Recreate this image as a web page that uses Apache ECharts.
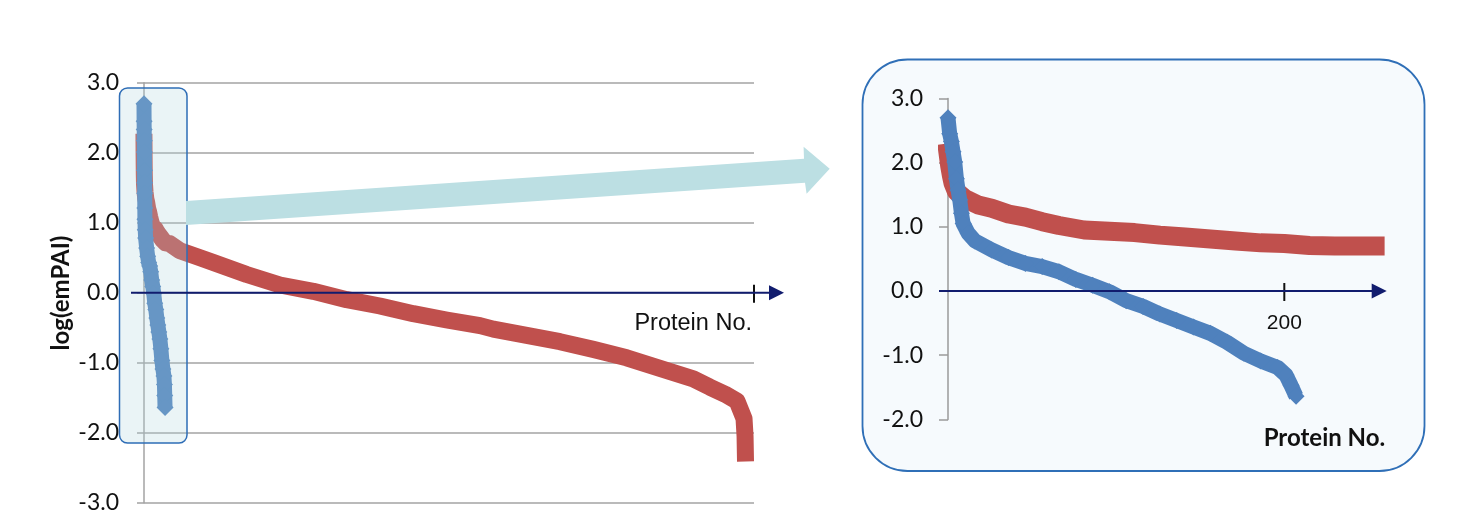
<!DOCTYPE html>
<html><head><meta charset="utf-8">
<script src="https://cdn.jsdelivr.net/npm/echarts@6/dist/echarts.min.js"></script>
<style>html,body{margin:0;padding:0;background:#fff;}#c{width:1460px;height:526px;}</style>
</head><body><div id="c"></div>
<script>
// ---- data ----
const blueIdx = [0,1,2,3,4,5,6,7,8,9,12,16,26,36,46,56,66,76,86,96,106,116,126,136,146,156,166,176,186,196,201,204,207];
const blueVal = [2.70,2.45,2.33,2.17,2.01,1.75,1.57,1.42,1.21,1.05,0.90,0.78,0.64,0.52,0.43,0.38,0.30,0.18,0.09,-0.01,-0.15,-0.24,-0.36,-0.46,-0.56,-0.66,-0.80,-0.97,-1.09,-1.19,-1.31,-1.47,-1.64];
const redIdx = [0,1,2,3,5,10,18,26,36,46,56,66,81,96,111,126,141,156,171,186,200,215,230,254,354,551,682,1010,1338,1665,1994,2321,2649,2977,3305,3436,3764,4092,4419,4748,5075,5403,5567,5715,5833,5902,5912,5915];
const redVal = [2.15,1.95,1.80,1.68,1.55,1.44,1.34,1.29,1.20,1.15,1.08,1.02,0.95,0.93,0.91,0.87,0.84,0.81,0.78,0.75,0.74,0.71,0.70,0.70,0.60,0.50,0.43,0.26,0.11,0.02,-0.10,-0.19,-0.30,-0.39,-0.47,-0.52,-0.61,-0.70,-0.81,-0.93,-1.08,-1.23,-1.35,-1.45,-1.55,-1.80,-2.05,-2.29];
const mainYTicks = {min: -3, max: 3, step: 1};
const insetYTicks = {min: -2, max: 3, step: 1};
const mainXMax = 6000;
const insetXMax = 260;
const insetLastRed = 254;
const insetXTickLabel = 200;
const yName = 'log(emPAI)';
const xName = 'Protein No.';

const pairs = (xs, ys) => xs.map((x, k) => [x, ys[k]]);
const redAll = pairs(redIdx, redVal);
const blueAll = pairs(blueIdx, blueVal);
const redInset = redAll.filter(p => p[0] <= insetLastRed);

const RED = '#c0504d', BLUE = '#4f81bd', NAVY = '#111c6e', GRAY = '#a3a3a3';
const labelFont = {fontFamily: 'Lato', fontSize: 23, color: '#111'};

const chart = echarts.init(document.getElementById('c'), null, {renderer: 'canvas'});
const option = {
  animation: false,
  backgroundColor: '#ffffff',
  grid: [
    {left: 144, top: 82.7, width: 610, height: 420},
    {left: 948, top: 98.4, width: 437.2, height: 321}
  ],
  xAxis: [
    {type: 'value', gridIndex: 0, min: 0, max: mainXMax, axisLine: {show: false}, axisTick: {show: false}, axisLabel: {show: false}, splitLine: {show: false}},
    {type: 'value', gridIndex: 1, min: 0, max: insetXMax, interval: insetXTickLabel,
      axisLine: {show: false}, axisTick: {show: false}, axisLabel: {show: false}, splitLine: {show: false}}
  ],
  yAxis: [
    {type: 'value', gridIndex: 0, min: mainYTicks.min, max: mainYTicks.max, interval: mainYTicks.step,
      axisLine: {show: true, onZero: false, lineStyle: {color: GRAY, width: 1.5}},
      axisTick: {show: true, length: 7, lineStyle: {color: GRAY, width: 1.5}},
      axisLabel: Object.assign({margin: 25, formatter: v => v.toFixed(1)}, labelFont),
      splitLine: {show: true, lineStyle: {color: GRAY, width: 1.5}}},
    {type: 'value', gridIndex: 1, min: insetYTicks.min, max: insetYTicks.max, interval: insetYTicks.step,
      axisLine: {show: true, onZero: false, lineStyle: {color: '#9a9a9a', width: 1.5}},
      axisTick: {show: true, length: 9, lineStyle: {color: '#9a9a9a', width: 1.5}},
      axisLabel: Object.assign({margin: 25, formatter: v => v.toFixed(1)}, labelFont),
      splitLine: {show: false}}
  ],
  series: [
    {type: 'line', xAxisIndex: 0, yAxisIndex: 0, data: redAll, showSymbol: false, clip: false, z: 2,
      lineStyle: {color: RED, width: 17, cap: 'square', join: 'round'}, itemStyle: {color: RED}},
    {type: 'line', xAxisIndex: 0, yAxisIndex: 0, data: blueAll, symbol: 'diamond', symbolSize: 17, showSymbol: true, clip: false, z: 3,
      lineStyle: {color: BLUE, width: 15, join: 'round'}, itemStyle: {color: BLUE}},
    {type: 'line', xAxisIndex: 1, yAxisIndex: 1, data: redInset, showSymbol: false, clip: false, z: 2,
      lineStyle: {color: RED, width: 19, cap: 'square', join: 'round'}, itemStyle: {color: RED}},
    {type: 'line', xAxisIndex: 1, yAxisIndex: 1, data: blueAll, symbol: 'diamond', symbolSize: 17, showSymbol: true, clip: false, z: 3,
      lineStyle: {color: BLUE, width: 15, join: 'round'}, itemStyle: {color: BLUE}}
  ]
};
chart.setOption(option);

// decorations positioned from the library's scales
const p0 = (x, y) => chart.convertToPixel({gridIndex: 0}, [x, y]);
const p1 = (x, y) => chart.convertToPixel({gridIndex: 1}, [x, y]);
const m0 = p0(0, 0), mEnd = p0(mainXMax, 0);
const i0 = p1(0, 0), iTick = p1(insetXTickLabel, 0), iEnd = p1(insetXMax, 0);

function axisArrow(x1, x2, y, tipX) {
  return [
    {type: 'line', z: 60, shape: {x1: x1, y1: y, x2: tipX - 12, y2: y}, style: {stroke: NAVY, lineWidth: 2}},
    {type: 'polygon', z: 60, shape: {points: [[tipX, y], [tipX - 15, y - 7.5], [tipX - 15, y + 7.5]]}, style: {fill: NAVY}}
  ];
}

const graphics = [
  {type: 'rect', z: -1, shape: {x: 862.5, y: 59.5, width: 562, height: 411.5, r: 45},
    style: {fill: '#f6fafd', stroke: '#2f6fb7', lineWidth: 1.8}},
  {type: 'rect', z: 50, shape: {x: 119.5, y: 88, width: 67.5, height: 355, r: 8},
    style: {fill: 'rgba(174,213,220,0.26)', stroke: '#2e6db6', lineWidth: 1.5}},
  {type: 'polygon', z: 51, shape: {points: [[186, 201], [804, 158.7], [803.6, 146.7], [829.7, 168.7], [806.6, 193.7], [805, 182.7], [186, 225]]},
    style: {fill: '#bcdfe3'}},
  {type: 'line', z: 60, shape: {x1: mEnd[0], y1: mEnd[1] - 8, x2: mEnd[0], y2: mEnd[1] + 10}, style: {stroke: '#111', lineWidth: 2}},
  {type: 'line', z: 60, shape: {x1: iTick[0], y1: iTick[1] - 8, x2: iTick[0], y2: iTick[1] + 10}, style: {stroke: '#111', lineWidth: 2}},
  {type: 'text', z: 60, x: iTick[0], y: iTick[1] + 32, style: {text: String(insetXTickLabel), font: '21px "Liberation Sans"', fill: '#111', align: 'center', verticalAlign: 'middle'}},
  {type: 'text', z: 60, x: mEnd[0] - 2, y: m0[1] + 31, style: {text: xName, font: '23.5px "Liberation Sans"', fill: '#111', align: 'right', verticalAlign: 'middle'}},
  {type: 'text', z: 60, x: iEnd[0], y: 438, style: {text: xName, font: 'bold 24px Lato', fill: '#111', align: 'right', verticalAlign: 'middle'}},
  {type: 'text', z: 60, x: 61, y: 293, rotation: Math.PI / 2, style: {text: yName, font: 'bold 24px Lato', fill: '#111', align: 'center', verticalAlign: 'middle'}}
]
.concat(axisArrow(131, mEnd[0] + 29, m0[1], mEnd[0] + 30))
.concat(axisArrow(i0[0] - 9, iEnd[0], i0[1], iEnd[0] + 1.5));

chart.setOption({graphic: {elements: graphics}});
</script>
</body></html>
